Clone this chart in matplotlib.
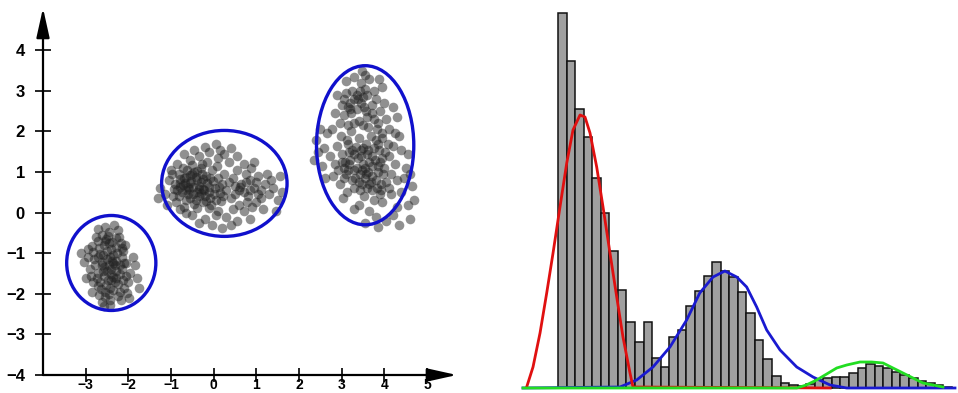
import matplotlib
matplotlib.use("Agg")
import matplotlib.pyplot as plt
from matplotlib.patches import Ellipse

plt.rcParams["font.family"] = ["Liberation Sans", "DejaVu Sans"]

# --- left panel: three point clouds ---
c1 = [(-2.62,-0.55),(-2.45,-0.48),(-2.71,-0.70),(-2.30,-0.62),(-2.55,-0.35),(-2.18,-0.75),(-2.85,-0.82),(-2.40,-0.90),(-2.66,-1.02),(-2.12,-0.95),
      (-2.95,-1.10),(-2.50,-1.15),(-2.28,-1.20),(-2.78,-1.30),(-2.05,-1.25),(-2.40,-1.38),(-2.60,-1.45),(-2.20,-1.52),(-2.88,-1.55),(-1.95,-1.48),
      (-2.48,-1.65),(-2.32,-1.72),(-2.70,-1.80),(-2.10,-1.85),(-2.55,-1.95),(-2.25,-2.05),(-2.42,-2.15),(-2.68,-2.02),(-2.02,-1.98),(-2.35,-1.05),
      (-2.58,-0.80),(-2.15,-1.10),(-2.82,-0.98),(-2.46,-1.28),(-2.00,-1.70),(-2.74,-1.62),(-2.36,-1.58),(-2.52,-0.65),(-2.24,-0.42),(-2.90,-1.40),
      (-3.05,-1.22),(-1.85,-1.30),(-2.62,-1.22),(-2.44,-1.85),(-2.14,-1.40),(-2.76,-0.60),(-2.38,-0.72),(-2.58,-1.55),(-2.20,-1.95),(-1.90,-1.10),
      (-2.50,-0.95),(-2.30,-1.45),(-2.66,-1.70),(-2.08,-0.80),(-2.94,-0.90),(-2.42,-2.28),(-2.62,-2.20),(-1.80,-1.60),(-2.34,-0.30),(-2.70,-0.40),
      (-2.56,-1.35),(-2.26,-1.00),(-2.44,-1.10),(-2.12,-1.65),(-2.80,-1.15),(-2.48,-0.58),(-2.18,-2.15),(-3.00,-1.60),(-2.64,-1.88),(-2.36,-1.90),
      (-1.75,-1.85),(-2.54,-2.08),(-2.40,-1.50),(-2.22,-0.60),(-2.86,-1.95),(-2.10,-1.25),(-2.60,-1.05),(-2.32,-1.30),(-1.98,-2.10),(-2.72,-1.48),
      (-2.45,-0.75),(-2.68,-0.88),(-2.28,-1.62),(-2.52,-1.78),(-2.05,-1.55),(-2.38,-1.18),(-2.82,-1.72),(-2.15,-0.88),(-2.58,-2.30),(-3.10,-1.00),
      (-2.55,-0.70),(-2.35,-1.25),(-2.50,-1.45),(-2.25,-1.75),(-2.62,-1.30),(-2.40,-1.65),(-2.70,-1.10),(-2.30,-0.85),(-2.45,-2.00),(-2.20,-1.30)]

c2 = [(-0.85,0.55),(-0.72,0.68),(-0.60,0.45),(-0.78,0.82),(-0.55,0.92),(-0.66,0.30),(-0.48,0.62),(-0.40,0.80),(-0.35,0.40),(-0.90,0.70),
      (-0.62,1.05),(-0.30,1.10),(-0.22,0.55),(-0.15,0.72),(-0.08,0.35),(-0.45,0.22),(-0.70,0.15),(-0.28,0.95),(-0.52,0.78),(-0.18,0.90),
      (0.02,0.60),(0.10,0.85),(0.05,0.30),(-0.05,1.05),(-0.40,0.50),(-0.82,0.95),(-0.95,0.40),(-0.58,0.58),(-0.25,0.25),(0.15,0.48),
      (-0.12,0.12),(-0.75,0.50),(-0.34,0.66),(0.20,0.70),(-0.46,1.00),(-0.68,0.72),(-0.10,0.52),(0.25,0.95),(-0.20,0.40),(-0.88,0.25),
      (-0.02,0.78),(-0.56,0.35),(-0.38,0.12),(0.08,1.15),(-0.64,0.88),(-0.30,0.75),(-0.80,0.62),(0.18,0.28),(-0.15,1.25),(-0.50,1.18),
      (-0.26,0.58),(-0.72,1.10),(0.30,0.55),(-0.42,0.88),(-0.06,0.20),
      (-0.35,1.40),(-0.10,1.50),(0.10,1.35),(-0.55,1.30),(0.25,1.45),(-0.20,1.62),(0.05,1.70),(-0.45,1.55),(0.35,1.25),(-0.70,1.45),
      (0.40,1.60),(-0.28,1.20),(0.55,1.40),(-0.85,1.20),(0.15,1.55),
      (-0.50,-0.05),(-0.20,-0.15),(0.10,0.05),(0.30,-0.10),(-0.65,0.00),(0.45,0.10),(-0.05,-0.30),(0.20,-0.38),(0.55,-0.20),(-0.35,-0.25),
      (0.70,0.05),(0.85,-0.15),(-0.80,0.10),(0.05,-0.05),(0.40,-0.30),
      (0.50,0.45),(0.65,0.70),(0.80,0.40),(0.95,0.60),(0.60,0.20),(1.10,0.35),(0.75,0.95),(0.90,0.15),(1.20,0.70),(1.05,0.90),
      (0.45,0.85),(0.70,0.50),(1.30,0.45),(0.85,0.80),(1.15,0.10),(0.55,1.05),(1.00,0.25),(1.40,0.60),(0.62,0.62),(0.88,1.10),
      (1.25,0.95),(0.40,0.35),(1.50,0.30),(0.78,0.25),(1.10,0.55),(0.95,1.25),(0.35,0.75),(1.35,0.80),(0.72,1.20),(1.00,0.75),
      (-1.05,0.80),(-1.15,0.45),(-1.00,1.05),(-1.25,0.60),(-1.10,0.20),(-0.98,0.95),(-1.30,0.35),
      (1.55,0.90),(1.60,0.50),(1.45,0.05),
      (-0.60,0.62),(-0.48,0.45),(-0.70,0.85),(-0.35,0.58),(-0.55,0.72),(-0.82,0.40),(-0.42,0.32),(-0.25,0.82),(-0.65,0.55),(-0.12,0.62),
      (-0.30,0.48),(-0.78,0.72),(-0.50,0.95),(-0.18,0.28),(0.00,0.45),(-0.38,1.02),(0.12,0.62),(0.22,0.40),(-0.08,0.85),(-0.92,0.58),
      (0.60,0.55),(0.85,0.55),(1.05,0.45),(0.75,0.75),(0.50,0.65)]

c3 = [(2.85,1.20),(3.00,1.45),(3.10,0.95),(3.20,1.30),(3.35,1.10),(3.45,1.55),(3.55,0.85),(3.65,1.25),(3.75,1.60),(3.85,1.00),
      (3.95,1.35),(4.05,0.75),(2.95,0.70),(3.15,1.70),(3.30,0.60),(3.40,1.85),(3.60,1.45),(3.70,0.55),(3.80,1.80),(3.90,0.45),
      (2.90,1.65),(3.05,1.10),(3.25,0.80),(3.50,1.20),(3.62,1.00),(3.78,1.30),(3.88,1.55),(4.00,1.10),(4.12,1.40),(3.18,1.50),
      (3.38,1.35),(3.48,0.70),(3.58,1.70),(3.72,0.90),(3.92,0.70),(2.80,0.90),(3.08,1.25),(3.28,1.05),(3.68,1.90),(4.15,0.95),
      (3.12,0.50),(3.42,0.95),(3.82,0.60),(3.52,0.40),(2.98,1.90),(3.22,2.00),(3.95,1.85),(3.33,1.62),(3.63,0.70),(4.08,1.70),
      (2.72,1.40),(3.02,0.35),(3.85,1.15),(3.47,1.05),(3.75,0.30),
      (3.05,2.40),(3.20,2.70),(3.35,2.55),(3.50,2.85),(3.25,3.00),(3.60,2.35),(3.10,2.95),(3.45,3.20),(3.70,2.65),(3.85,2.20),
      (2.95,2.20),(3.40,2.25),(3.15,2.15),(3.55,3.05),(3.30,3.35),(3.75,3.00),(3.90,2.50),(4.05,2.30),(4.20,2.60),(3.00,2.65),
      (2.85,2.45),(3.65,3.30),(3.38,2.80),(3.80,2.80),(4.10,2.05),(3.52,2.60),(2.78,2.05),(3.95,3.10),(3.22,2.45),(4.30,2.35),
      (3.48,3.50),(3.62,2.10),(3.10,3.25),(4.00,2.70),(2.90,2.90),(3.72,2.45),(3.28,2.20),(4.25,1.95),(3.55,3.40),(3.88,3.30),
      (3.40,0.20),(3.65,0.05),(3.95,0.25),(4.15,0.45),(4.30,0.15),(3.80,-0.10),(4.05,-0.20),(4.40,0.50),(4.55,0.20),(4.65,0.65),
      (3.55,-0.25),(4.20,-0.05),(4.60,-0.15),(3.30,0.10),(4.45,0.85),(4.70,0.30),(3.85,-0.35),(4.35,-0.30),
      (2.45,1.50),(2.55,1.15),(2.40,1.80),(2.60,0.85),(2.50,2.05),(2.35,1.30),(2.65,1.95),(2.58,1.60),
      (4.25,1.20),(4.40,1.55),(4.30,0.80),(4.50,1.10),(4.35,1.90),(4.55,1.45),(4.20,1.65),(4.60,0.95),
      (3.15,1.05),(3.45,1.40),(3.70,1.15),(3.58,0.95),(3.90,1.25),(3.32,0.85),(3.80,0.80),(3.05,0.85),(3.50,1.60),(3.25,1.55),
      (3.62,1.55),(3.98,0.95),(3.40,0.75),(3.70,1.40),(3.18,1.20),(3.85,1.70),(3.55,1.10),(3.30,1.45),(4.02,1.50),(3.12,1.80),
      (3.35,2.90),(3.20,2.55),(3.45,2.70),(3.28,2.80),(3.60,2.90),(3.15,2.60),(3.42,3.00),(3.05,2.80),(3.58,2.50),(3.75,2.30),
      (3.95,1.95),(3.50,2.15),(3.82,2.05),(3.68,0.75),(3.42,0.55),(3.92,0.55),(4.10,0.60),(3.60,0.60),(2.92,1.05),(3.00,1.25)]

# fitted ellipses: center x, center y, width, height
ell_cx = [-2.40, 0.25, 3.55]
ell_cy = [-1.24, 0.72, 1.66]
ell_w = [2.09, 2.94, 2.28]
ell_h = [2.34, 2.61, 3.92]

xticks = [-3, -2, -1, 0, 1, 2, 3, 4, 5]
yticks = [-4, -3, -2, -1, 0, 1, 2, 3, 4]

# --- right panel: histogram and three fitted components ---
counts = [375, 327, 279, 251, 210, 175, 137, 98, 66, 46, 66, 30, 21, 51, 58, 82, 97, 112, 126, 117,
          111, 96, 75, 48, 29, 12, 5, 3, 2, 4, 8, 10, 11, 11, 15, 20, 24, 22, 20, 16, 13, 10, 7, 5, 3, 1]

red_x = [-4.16, -3.42, -2.60, -1.82, -1.08, -0.27, 0.52, 1.25, 2.07, 2.65, 3.24, 4.02, 4.76, 5.57, 6.36, 7.09, 7.91, 8.26, 31.3]
red_y = [1, 21, 55, 95, 135, 181, 225, 258, 273, 271, 255, 221, 181, 135, 91, 51, 15, 1, 0]

blue_x = [-4.59, 6.74, 8.69, 10.60, 12.58, 14.53, 16.06, 17.61, 19.0, 20.38, 21.54, 22.71, 23.88, 25.44, 27.39, 29.29, 31.28, 33.23, 45.88]
blue_y = [0, 1, 8, 21, 41, 68, 95, 111, 117, 111, 101, 81, 58, 38, 21, 11, 3, 0, 0]

green_x = [-4.59, 27.39, 28.5, 29.72, 30.89, 32.06, 33.23, 34.78, 36.15, 37.47, 38.63, 39.80, 40.97, 42.14, 43.31, 44.48]
green_y = [0, 0, 3, 8, 14, 20, 23, 26, 26, 25, 20, 15, 10, 5, 3, 1]

W, H = 958, 393
fig = plt.figure(figsize=(W / 100, H / 100), dpi=100)

# left panel
ax = fig.add_axes([43 / W, 18 / H, 419 / W, 371 / H])
ax.set_xlim(-4, 5.82)
ax.set_ylim(-4, 5.14)
for c in (c1, c2, c3):
    ax.scatter([p[0] for p in c], [p[1] for p in c], s=48, color="#222222", alpha=0.5,
               linewidths=0, zorder=2)
for cx, cy, w, h in zip(ell_cx, ell_cy, ell_w, ell_h):
    ax.add_patch(Ellipse((cx, cy), w, h, fill=False, edgecolor="#1010cc", lw=2.4, zorder=3))

for s in ax.spines.values():
    s.set_visible(False)
arrow = dict(arrowstyle="-|>,head_length=0.9,head_width=0.2", color="black", lw=1.6,
             mutation_scale=20, shrinkA=0, shrinkB=0)
ax.annotate("", xy=(5.70, -4), xytext=(-4, -4), arrowprops=arrow, annotation_clip=False)
ax.annotate("", xy=(-4, 5.04), xytext=(-4, -4), arrowprops=arrow, annotation_clip=False)
ax.set_xticks(xticks)
ax.set_yticks(yticks)
ax.tick_params(axis="x", direction="inout", length=10, width=1.2, pad=-3, labelsize=10)
ax.tick_params(axis="y", direction="inout", length=12, width=1.2, pad=7, labelsize=12)
for lab in ax.get_xticklabels() + ax.get_yticklabels():
    lab.set_fontweight("bold")

# right panel
ax2 = fig.add_axes([523 / W, 2 / H, 432 / W, 391 / H])
ax2.set_xlim(-4.59, 45.88)
ax2.set_ylim(-3, 388)
ax2.bar(range(len(counts)), counts, width=1.0, color="#a0a0a0", edgecolor="#111111", linewidth=1.1)
ax2.plot(blue_x, blue_y, color="#1a1ad0", lw=2.0, clip_on=False)
ax2.plot(red_x, red_y, color="#e01010", lw=2.0, clip_on=False)
ax2.plot(green_x, green_y, color="#22dd22", lw=2.0, clip_on=False)
ax2.axis("off")

fig.savefig("out.png", dpi=100)
